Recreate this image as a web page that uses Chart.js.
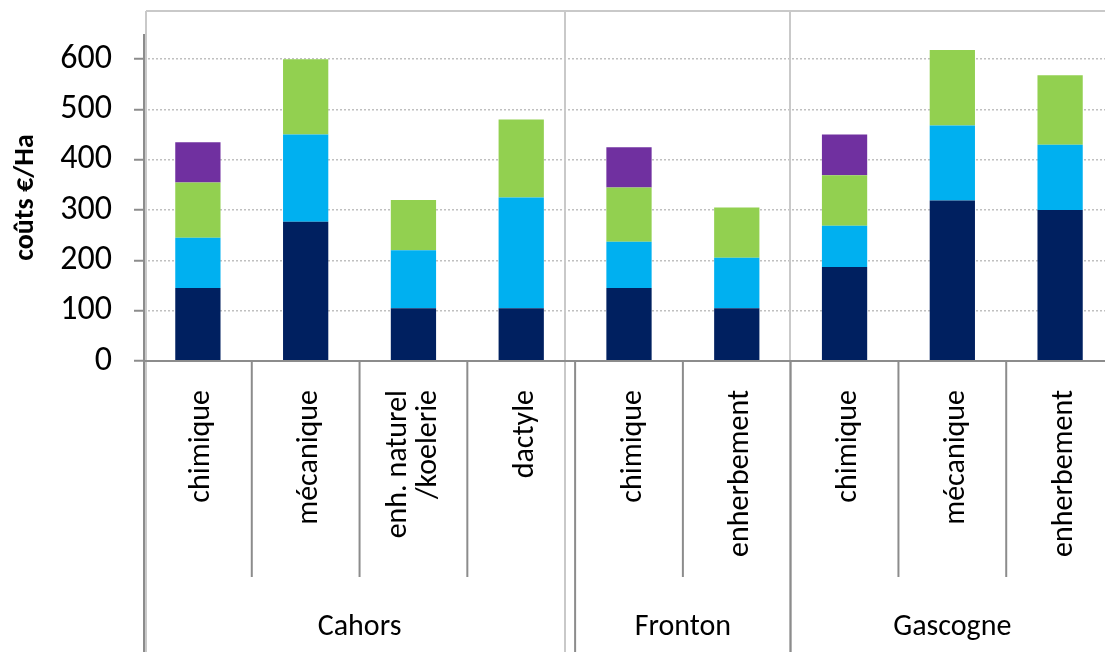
<!DOCTYPE html>
<html>
<head>
<meta charset="utf-8">
<script src="https://cdn.jsdelivr.net/npm/chart.js@4/dist/chart.umd.min.js"></script>
<style>
  html, body { margin: 0; padding: 0; overflow: hidden; background: #fff; }
  canvas { display: block; }
</style>
</head>
<body>
<canvas id="myChart" width="1114" height="652"></canvas>
<script>
// categories (one per bar) and the sites they belong to
const categories = ['chimique', 'mécanique', ['enh. naturel', '/koelerie'], 'dactyle',
                    'chimique', 'enherbement',
                    'chimique', 'mécanique', 'enherbement'];
const groupNames = ['Cahors', 'Fronton', 'Gascogne'];
const groupSizes = [4, 2, 3];

// stacked cost parts, €/Ha
const navyPart   = [145, 277, 105, 105, 145, 105, 187, 319, 300];
const bluePart   = [100, 173, 115, 220,  92, 100,  82, 149, 130];
const greenPart  = [110, 150, 100, 155, 108, 100, 100, 150, 138];
const purplePart = [ 80, null, null, null, 80, null, 81, null, null];

const yTicks = [0, 100, 200, 300, 400, 500, 600];
const yMax = 650;

const FONT = 'Carlito, Lato, "Open Sans", sans-serif';
const darkLine = '#8c8c8c';
const lightLine = '#c9c9c9';

// draws axis lines, category labels, dividers, site labels and the outer frame
const groupPlugin = {
  id: 'groups',
  afterDraw(chart) {
    const ctx = chart.ctx;
    const x = chart.scales.x;
    const area = chart.chartArea;
    const H = chart.height;
    const step = x.getPixelForValue(1) - x.getPixelForValue(0);
    const edge = i => x.getPixelForValue(i) - step / 2;

    ctx.save();
    // light frame
    ctx.strokeStyle = lightLine;
    ctx.lineWidth = 2;
    ctx.beginPath();
    ctx.moveTo(area.left + 2, 11); ctx.lineTo(chart.width, 11);
    [area.left + 2, 565, 790].forEach(fx => {
      ctx.moveTo(fx, 11); ctx.lineTo(fx, H);
    });
    ctx.stroke();

    // axes
    ctx.strokeStyle = darkLine;
    ctx.lineWidth = 2;
    ctx.beginPath();
    ctx.moveTo(area.left, area.top); ctx.lineTo(area.left, H);
    ctx.moveTo(area.left, area.bottom); ctx.lineTo(chart.width, area.bottom);
    ctx.stroke();

    // dividers between categories and between sites
    let start = 0;
    const groupEnds = [];
    groupSizes.forEach(n => { start += n; groupEnds.push(start); });
    for (let i = 1; i < categories.length; i++) {
      const bx = edge(i);
      const full = groupEnds.includes(i);
      ctx.beginPath();
      ctx.moveTo(bx, area.bottom);
      ctx.lineTo(bx, full ? H : 577);
      ctx.stroke();
    }

    // category labels, rotated, ending just under the axis
    ctx.fillStyle = '#000';
    ctx.font = '30px ' + FONT;
    ctx.textAlign = 'right';
    ctx.textBaseline = 'middle';
    categories.forEach((lab, i) => {
      const lines = Array.isArray(lab) ? lab : [lab];
      const px = x.getPixelForValue(i);
      ctx.save();
      ctx.translate(px, area.bottom + 29);
      ctx.rotate(-Math.PI / 2);
      lines.forEach((t, k) => {
        const off = lines.length === 1 ? 4 : (k - (lines.length - 1) / 2) * 30;
        ctx.fillText(t, 0, off);
      });
      ctx.restore();
    });

    // site labels
    ctx.textAlign = 'center';
    let first = 0;
    groupNames.forEach((name, g) => {
      const last = first + groupSizes[g];
      const cx = (edge(first) + edge(last)) / 2;
      ctx.fillText(name, cx, 627);
      first = last;
    });
    ctx.restore();
  }
};

window.onload = function() {
  const ctx = document.getElementById('myChart').getContext('2d');
  const costChart = new Chart(ctx, {
    type: 'bar',
    data: {
      labels: categories,
      datasets: [
        { data: navyPart,   backgroundColor: '#002060' },
        { data: bluePart,   backgroundColor: '#00b0f0' },
        { data: greenPart,  backgroundColor: '#92d050' },
        { data: purplePart, backgroundColor: '#7030a0' }
      ]
    },
    options: {
      responsive: false,
      animation: false,
      layout: { padding: { top: 34, right: 0, left: 0, bottom: 0 } },
      datasets: { bar: { barPercentage: 0.42, categoryPercentage: 1 } },
      plugins: { legend: { display: false }, tooltip: { enabled: false } },
      scales: {
        x: {
          stacked: true,
          grid: { display: false, drawTicks: false },
          border: { display: false },
          ticks: { display: false },
          afterFit: scale => { scale.height = 291; }
        },
        y: {
          stacked: true,
          min: 0,
          max: yMax,
          afterBuildTicks: scale => {
            scale.ticks = yTicks.map(v => ({ value: v }));
          },
          grid: {
            color: ctx => ctx.tick && ctx.tick.value === 0 ? 'rgba(0,0,0,0)' : '#c0c0c0',
            lineWidth: 1.5,
            tickLength: 10,
            tickColor: darkLine,
            tickWidth: 2,
            tickBorderDash: []
          },
          border: { display: false, dash: [2, 2] },
          ticks: {
            padding: 22,
            color: '#000',
            font: { family: FONT, size: 34, lineHeight: 0.6 }
          },
          title: {
            display: true,
            text: 'coûts €/Ha',
            color: '#000',
            padding: { top: 9, bottom: 0 },
            font: { family: FONT, size: 28, weight: 'bold' }
          },
          afterFit: scale => { scale.width = 144; }
        }
      }
    },
    plugins: [groupPlugin]
  });
};
</script>
</body>
</html>
